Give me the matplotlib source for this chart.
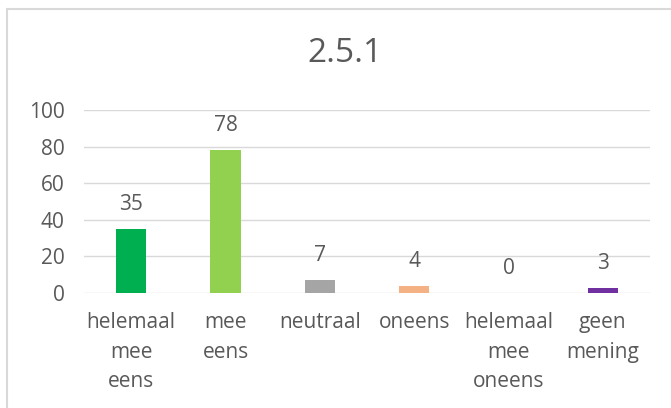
import matplotlib
matplotlib.use('Agg')
import matplotlib.pyplot as plt
from matplotlib.patches import Rectangle

categories = ['helemaal\nmee\neens', 'mee\neens', 'neutraal', 'oneens',
              'helemaal\nmee\noneens', 'geen\nmening']
values = [35, 78, 7, 4, 0, 3]
colors = ['#00B050', '#92D050', '#A5A5A5', '#F4B183', '#5B9BD5', '#7030A0']
yticks = [0, 20, 40, 60, 80, 100]

plt.rcParams['font.family'] = ['Open Sans', 'DejaVu Sans']
txt = '#595959'
fs = 15

fig = plt.figure(figsize=(6.71, 4.08), dpi=100)
# chart border
fig.patches.append(Rectangle((7 / 671, -0.1), 1.0, 1.1 - 9 / 408,
                             transform=fig.transFigure, fill=False,
                             edgecolor='#D9D9D9', linewidth=1.5))

ax = fig.add_axes([84 / 671, 1 - 293 / 408, 566 / 671, 183 / 408])
x = range(len(categories))
bars = ax.bar(x, values, width=0.32, color=colors, zorder=3)
for xi, v in zip(x, values):
    ax.annotate(str(v), (xi, v), xytext=(0, 10), textcoords='offset points',
                ha='center', va='bottom', fontsize=fs, color=txt)

ax.set_xlim(-0.5, len(categories) - 0.5)
ax.set_ylim(0, 100)
ax.set_yticks(yticks)
ax.set_xticks(list(x))
ax.set_xticklabels(categories, linespacing=1.53)
ax.tick_params(axis='both', length=0, labelsize=fs, colors=txt)
ax.tick_params(axis='x', pad=14)
ax.tick_params(axis='y', pad=14)
ax.grid(axis='y', color='#D9D9D9', linewidth=1, zorder=0)
for s in ax.spines.values():
    s.set_visible(False)

fig.text(345 / 671, 1 - 53 / 408, '2.5.1', ha='center', va='center',
         fontsize=24, color=txt)

fig.savefig('out.png', dpi=100)
